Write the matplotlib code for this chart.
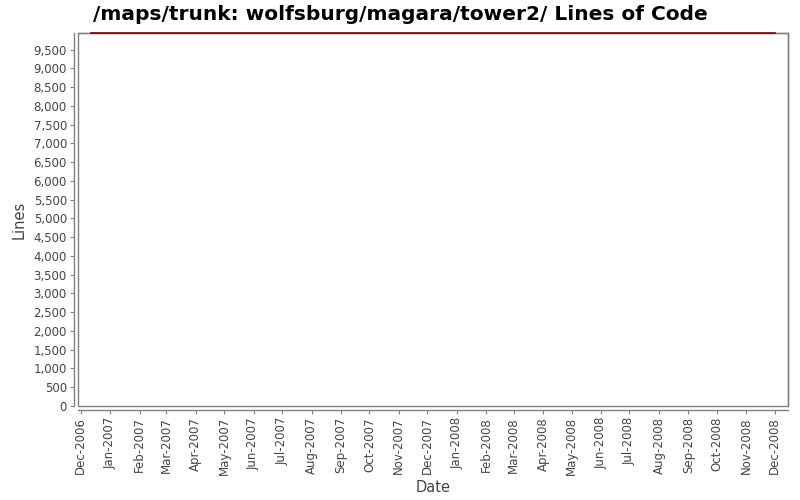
import matplotlib
matplotlib.use("Agg")
import matplotlib.pyplot as plt
import matplotlib.dates as mdates
import datetime as dt

# Data
dates = [dt.datetime(2006, 12, 12), dt.datetime(2008, 12, 1)]
lines = [9941, 9941]
month_ticks = [dt.datetime(2006 + (11 + i) // 12, (11 + i) % 12 + 1, 1) for i in range(25)]
y_ticks = list(range(0, 10000, 500))

title = "/maps/trunk: wolfsburg/magara/tower2/ Lines of Code"

fig = plt.figure(figsize=(8, 5), dpi=100)
ax = fig.add_axes([78/800, 1 - 406/500, (788-78)/800, (406-33)/500])

ax.plot(dates, lines, color="#800000", linewidth=1.2, clip_on=False, zorder=5)

ax.set_xlim(dt.datetime(2006, 11, 28), dt.datetime(2008, 12, 15))
ax.set_ylim(0, 9941)

ax.set_yticks(y_ticks)
ax.set_yticklabels([f"{v:,}" for v in y_ticks])
ax.set_xticks(month_ticks)
ax.xaxis.set_major_formatter(mdates.DateFormatter("%b-%Y"))

gray = "#808080"
for s in ["top", "right"]:
    ax.spines[s].set_color(gray)
    ax.spines[s].set_linewidth(1)
for s in ["left", "bottom"]:
    ax.spines[s].set_position(("outward", 3))
    ax.spines[s].set_color(gray)
    ax.spines[s].set_linewidth(1)
ax.patch.set_edgecolor(gray)
ax.patch.set_linewidth(1)

ax.tick_params(axis="both", direction="out", length=3, width=0.8, color=gray,
               labelsize=8.5, labelcolor="#444444", pad=2)
ax.tick_params(axis="x", labelrotation=90)

ax.set_ylabel("Lines", fontsize=10.5, color="#444444", labelpad=5)
ax.set_xlabel("Date", fontsize=10.5, color="#444444", labelpad=3)

fig.text(0.5, 1 - 14/500, title, ha="center", va="center", fontsize=14.5,
         fontweight="bold", color="black")

fig.savefig("out.png", dpi=100)
